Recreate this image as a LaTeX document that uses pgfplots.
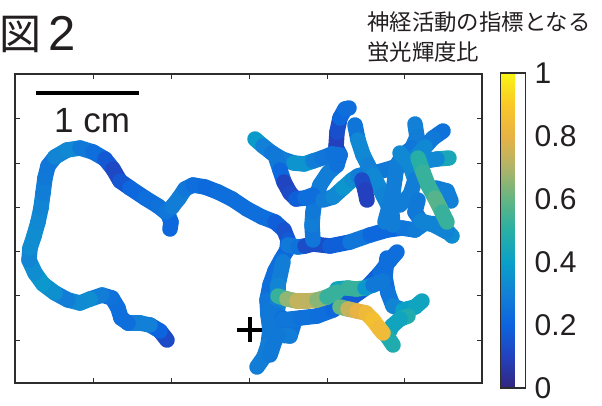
\documentclass[border=0pt]{standalone}
\usepackage{pgfplots}
\pgfplotsset{compat=1.18}
\usepackage{fontspec}
\setmainfont{Liberation Sans}
\newfontfamily\jp{Noto Sans CJK JP}
\definecolor{frame}{RGB}{45,45,45}
\definecolor{txt}{RGB}{35,31,32}
\pgfplotsset{trail/.style={mesh, point meta=explicit, line cap=round, line join=round, every mesh/.append style={line width=15.5pt}, line width=15.5pt}}
\begin{document}
\begin{tikzpicture}[x=1pt,y=1pt]
\begin{axis}[
  at={(15pt,-383pt)}, anchor=south west,
  scale only axis, width=467pt, height=309pt,
  xmin=15, xmax=482, ymin=74, ymax=383, y dir=reverse,
  xtick={93,171,249,327,404}, ytick={118,163,207,251,295,340},
  xticklabels={}, yticklabels={},
  tick pos=both, tick align=inside, major tick length=5pt,
  axis line style={frame, line width=1.4pt}, tick style={frame, line width=1pt},
  clip=false,
  colormap={parula}{rgb255=(50,38,125) rgb255=(35,65,190) rgb255=(12,100,222) rgb255=(18,128,214) rgb255=(10,160,200) rgb255=(40,175,165) rgb255=(100,182,130) rgb255=(175,180,105) rgb255=(232,178,68) rgb255=(250,200,40) rgb255=(248,245,20)},
  point meta min=0, point meta max=1,
  colorbar,
  colorbar style={at={(parent axis.north east)}, anchor=north west, xshift=10pt, yshift=1pt,
    scale only axis, width=25pt, height=315pt, y dir=normal,
    ytick={0,0.2,0.4,0.6,0.8,1}, yticklabels={0,0.2,0.4,0.6,0.8,1},
    yticklabel style={font=\fontsize{30}{30}\selectfont, text=txt, inner sep=0pt, xshift=9pt},
    axis line style={frame, line width=1.4pt}, major tick length=0pt},
]
% left loop
\addplot[trail] coordinates {(167,340)[0.10] (160,331)[0.15] (150,325)[0.25] (140,323)[0.35] (128,323)[0.25] (121,318)[0.22] (118,308)[0.25] (112,298)[0.22] (102,295)[0.28] (90,299)[0.30] (80,303)[0.38] (68,300)[0.28] (55,293)[0.30] (43,284)[0.40] (35,273)[0.35] (29,260)[0.33] (30,248)[0.30] (34,236)[0.38] (38,222)[0.30] (41,208)[0.35] (43,193)[0.28] (45,178)[0.30] (48,166)[0.25] (55,157)[0.28] (67,150)[0.35] (80,148)[0.30] (93,152)[0.25] (105,159)[0.22] (113,169)[0.12] (120,181)[0.12] (130,188)[0.20] (145,198)[0.22] (158,206)[0.25] (168,214)[0.25] (171,222)[0.22] (170,229)[0.20]};
% path to trunk
\addplot[trail] coordinates {(166,212)[0.25] (172,207)[0.28] (179,198)[0.30] (185,189)[0.28] (193,185)[0.25] (205,187)[0.22] (218,192)[0.22] (232,199)[0.25] (247,209)[0.22] (262,217)[0.25] (275,222)[0.22] (284,230)[0.15] (288,240)[0.15] (287,250)[0.20] (281,260)[0.22] (275,271)[0.25] (270,285)[0.22] (267,300)[0.25] (268,315)[0.28] (270,330)[0.25] (268,345)[0.30] (264,357)[0.28] (257,367)[0.30]};
\addplot[trail] coordinates {(283,262)[0.30] (278,285)[0.28] (278,305)[0.35] (275,340)[0.25] (270,355)[0.30]};
\addplot[trail] coordinates {(270,312)[0.30] (282,318)[0.25] (293,326)[0.22] (290,336)[0.28] (278,335)[0.30] (270,325)[0.25]};
% top horizontal
\addplot[trail] coordinates {(288,245)[0.18] (298,247)[0.38] (305,246)[0.12] (313,244)[0.15] (330,246)[0.12] (350,242)[0.25] (370,235)[0.28] (387,230)[0.15] (402,228)[0.28] (415,230)[0.25] (425,223)[0.32] (437,224)[0.30] (448,232)[0.35] (452,236)[0.32]};
% central vertical
\addplot[trail] coordinates {(313,240)[0.25] (312,225)[0.28] (313,212)[0.30] (315,200)[0.25] (320,185)[0.28] (328,173)[0.30] (337,165)[0.28] (340,155)[0.22]};
\addplot[trail] coordinates {(340,155)[0.20] (336,147)[0.10] (337,132)[0.10] (340,118)[0.18] (345,109)[0.25] (349,108)[0.22]};
% upper-left arm
\addplot[trail] coordinates {(255,139)[0.42] (263,146)[0.35] (272,153)[0.25] (282,159)[0.28] (294,163)[0.30] (304,164)[0.42] (313,161)[0.30] (322,158)[0.28] (332,154)[0.25] (340,155)[0.25]};
\addplot[trail] coordinates {(276,158)[0.25] (280,170)[0.30] (284,182)[0.12] (290,193)[0.10] (296,199)[0.15] (305,198)[0.22] (313,195)[0.25]};
\addplot[trail] coordinates {(323,200)[0.28] (333,197)[0.30] (343,188)[0.35] (352,180)[0.38] (358,176)[0.30] (368,173)[0.28] (378,172)[0.25] (392,168)[0.30] (402,165)[0.25]};
% diagonal from top
\addplot[trail] coordinates {(355,125)[0.22] (358,140)[0.30] (363,155)[0.35] (368,165)[0.30] (373,175)[0.30] (378,185)[0.35] (383,195)[0.30] (388,205)[0.32] (392,215)[0.30] (393,225)[0.28]};
\addplot[trail] coordinates {(362,180)[0.15] (365,190)[0.10] (367,200)[0.10]};
% right group
\addplot[trail] coordinates {(415,124)[0.30] (417,137)[0.30] (412,148)[0.28] (403,155)[0.25] (397,165)[0.30] (395,178)[0.28] (393,192)[0.30] (389,207)[0.28] (385,222)[0.30]};
\addplot[trail] coordinates {(400,153)[0.30] (410,165)[0.35] (415,180)[0.30] (410,195)[0.28] (400,205)[0.30]};
\addplot[trail] coordinates {(443,131)[0.25] (433,138)[0.25] (425,147)[0.30] (418,155)[0.35]};
\addplot[trail] coordinates {(449,158)[0.55] (437,159)[0.35] (425,161)[0.30]};
\addplot[trail] coordinates {(436,188)[0.30] (447,191)[0.28] (451,201)[0.32]};
\addplot[trail] coordinates {(418,200)[0.30] (415,212)[0.25] (421,221)[0.30] (434,225)[0.32] (447,232)[0.30]};
\addplot[trail] coordinates {(418,158)[0.45] (423,172)[0.55] (428,185)[0.50] (435,198)[0.55] (442,212)[0.60] (447,222)[0.45]};
% lower region
\addplot[trail] coordinates {(282,320)[0.28] (300,318)[0.25] (317,316)[0.25] (333,310)[0.22] (350,299)[0.20] (367,287)[0.15] (380,273)[0.22] (390,260)[0.25] (397,252)[0.22]};
\addplot[trail] coordinates {(387,258)[0.25] (385,277)[0.22] (388,293)[0.25] (393,306)[0.28] (403,310)[0.35] (415,307)[0.45] (422,301)[0.40]};
\addplot[trail] coordinates {(337,289)[0.40] (348,288)[0.45] (356,289)[0.60] (365,288)[0.45] (373,285)[0.30] (383,281)[0.25]};
\addplot[trail] coordinates {(278,296)[0.45] (287,299)[0.60] (297,301)[0.72] (307,301)[0.75] (317,300)[0.70] (327,297)[0.60] (337,292)[0.45]};
\addplot[trail] coordinates {(408,316)[0.50] (400,319)[0.45] (392,326)[0.40] (387,336)[0.45] (393,345)[0.50]};
\addplot[trail] coordinates {(340,307)[0.50] (348,309)[0.70] (357,311)[0.78] (366,313)[0.82] (373,320)[0.85] (379,328)[0.88] (383,333)[0.80]};
% scale bar and start mark
\addplot[black, line width=3.5pt, mark=none] coordinates {(36,93) (139,93)};
\addplot[only marks, black, line width=4pt, mark=+, mark size=12.5pt, mark options={line width=4pt, black}] coordinates {(249.5,329.5)};
\end{axis}
\node[anchor=base west, inner sep=0pt, text=txt] at (54,-132) {\fontsize{35}{35}\selectfont 1 cm};
\node[anchor=base west, inner sep=0pt, text=txt] at (-1,-49) {\jp\fontsize{42}{42}\selectfont 図};
\node[anchor=base west, inner sep=0pt, text=txt] at (48,-50) {\fontsize{49}{49}\selectfont 2};
\node[anchor=base west, inner sep=0pt, text=txt] at (367,-30) {\jp\fontsize{22.4}{22.4}\selectfont 神経活動の指標となる};
\node[anchor=base west, inner sep=0pt, text=txt] at (367,-60) {\jp\fontsize{22.4}{22.4}\selectfont 蛍光輝度比};
\pgfresetboundingbox
\path (0,0) rectangle (602,-405);
\end{tikzpicture}
\end{document}
